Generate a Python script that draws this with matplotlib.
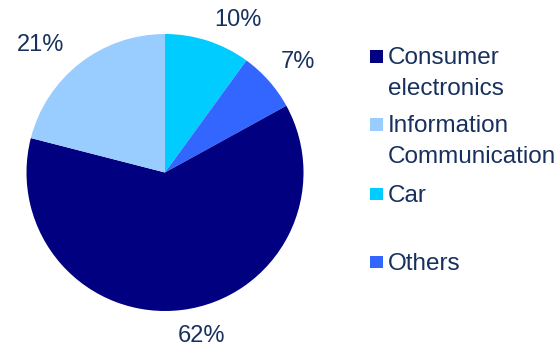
import matplotlib
matplotlib.use("Agg")
import matplotlib.pyplot as plt
from matplotlib.patches import Rectangle

# market share by application, clockwise from 12 o'clock
segments = ["Car", "Others", "Consumer\nelectronics", "Information\nCommunication"]
shares = [10, 7, 62, 21]
colors = ["#00CCFF", "#3366FF", "#000080", "#99CCFF"]

# legend order
legend_order = ["Consumer\nelectronics", "Information\nCommunication", "Car", "Others"]

text_color = "#17305E"
plt.rcParams["font.family"] = ["Liberation Sans", "DejaVu Sans"]

W, H = 560, 349
fig = plt.figure(figsize=(W / 100, H / 100), dpi=100)

# pie centre and radius in pixels
cx, cy, r = 165, 172.5, 138.5
ax = fig.add_axes([(cx - r) / W, (H - cy - r) / H, 2 * r / W, 2 * r / H])
wedges, _, autotexts = ax.pie(
    shares, colors=colors, startangle=90, counterclock=False, radius=1,
    autopct="%d%%", pctdistance=1.24,
    textprops=dict(color=text_color, fontsize=17),
    wedgeprops=dict(linewidth=0),
)
ax.set_xlim(-1, 1)
ax.set_ylim(-1, 1)
ax.axis("off")

# nudges for the percentage labels (data units)
label_shift = [(0.144, -0.075), (0.03, -0.02), (0.105, 0.05), (-0.135, -0.06)]
for t, (dx, dy) in zip(autotexts, label_shift):
    x, y = t.get_position()
    t.set_position((x + dx, y + dy))

# legend drawn by hand: square + label, spacing as in the layout
legend_tops = [49, 117, 186, 254]
for name, top in zip(legend_order, legend_tops):
    c = colors[segments.index(name)]
    fig.patches.append(Rectangle((370 / W, (H - top - 14) / H), 12.5 / W, 12.5 / H,
                                 transform=fig.transFigure, facecolor=c,
                                 edgecolor="none"))
    fig.text(388 / W, (H - top + 1.5) / H, name, color=text_color, fontsize=17.5,
             va="top", ha="left", linespacing=1.5)

fig.savefig("out.png", dpi=100)
